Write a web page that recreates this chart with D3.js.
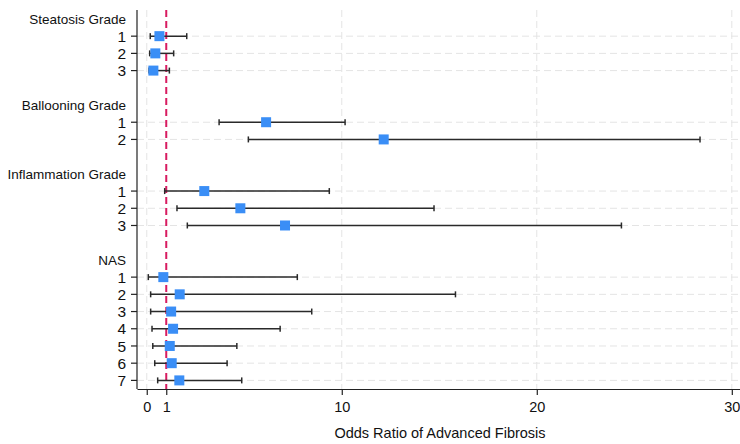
<!DOCTYPE html>
<html><head><meta charset="utf-8">
<script src="https://cdn.jsdelivr.net/npm/d3@7"></script>
<style>body{margin:0;background:#fff}text{font-family:"Liberation Sans",Arial,sans-serif;fill:#111}</style>
</head><body><svg id="c" width="740" height="444"></svg>
<script>
const groups = ["Steatosis Grade","Ballooning Grade","Inflammation Grade","NAS"];
const levels = [["1","2","3"],["1","2"],["1","2","3"],["1","2","3","4","5","6","7"]];
const oddsRatio = [[0.65,0.44,0.34],[6.12,12.15],[2.95,4.8,7.09],[0.85,1.69,1.25,1.35,1.18,1.28,1.67]];
const lower = [[0.18,0.15,0.12],[3.71,5.21],[0.92,1.55,2.08],[0.08,0.2,0.2,0.27,0.31,0.41,0.56]];
const upper = [[2.05,1.38,1.16],[10.17,28.37],[9.36,14.73,24.34],[7.72,15.83,8.46,6.84,4.62,4.12,4.87]];
const xTicks = [0,1,10,20,30];
const gridTicks = [0,10,20,30];
const refValue = 1;
const xTitle = "Odds Ratio of Advanced Fibrosis";

// build rows
const rows = []; let idx = 0;
groups.forEach((g,gi)=>{
  rows.push({type:"header",label:g,i:idx++});
  levels[gi].forEach((l,li)=>rows.push({type:"data",label:l,i:idx++,or:oddsRatio[gi][li],lo:lower[gi][li],hi:upper[gi][li]}));
  if(gi<groups.length-1) idx++;
});
const nRows = idx;

const svg = d3.select("#c");
const L=137, R=740, T=10, B=389;
const x = d3.scaleLinear().domain([-0.5,30.42]).range([L,R]);
const y = d3.scaleLinear().domain([-0.52,nRows-0.5]).range([T,B]);
const data = rows.filter(r=>r.type==="data");

// grids
svg.append("g").selectAll("line").data(gridTicks).join("line")
  .attr("x1",d=>x(d)).attr("x2",d=>x(d)).attr("y1",T).attr("y2",B)
  .attr("stroke","#e4e4e4").attr("stroke-width",1).attr("stroke-dasharray","7,4");
svg.append("g").selectAll("line").data(data).join("line")
  .attr("x1",L).attr("x2",R).attr("y1",d=>y(d.i)).attr("y2",d=>y(d.i))
  .attr("stroke","#e4e4e4").attr("stroke-width",1).attr("stroke-dasharray","7,4");

// reference line
svg.append("line").attr("x1",x(refValue)).attr("x2",x(refValue)).attr("y1",T).attr("y2",B)
  .attr("stroke","#d81b60").attr("stroke-width",2).attr("stroke-dasharray","7,4");

// error bars
const eb = svg.append("g").selectAll("g").data(data).join("g");
eb.append("line").attr("x1",d=>x(d.lo)).attr("x2",d=>x(d.hi)).attr("y1",d=>y(d.i)).attr("y2",d=>y(d.i))
  .attr("stroke","#2a2a2a").attr("stroke-width",1.5);
eb.append("line").attr("x1",d=>x(d.lo)).attr("x2",d=>x(d.lo)).attr("y1",d=>y(d.i)-3).attr("y2",d=>y(d.i)+3)
  .attr("stroke","#2a2a2a").attr("stroke-width",1.5);
eb.append("line").attr("x1",d=>x(d.hi)).attr("x2",d=>x(d.hi)).attr("y1",d=>y(d.i)-3).attr("y2",d=>y(d.i)+3)
  .attr("stroke","#2a2a2a").attr("stroke-width",1.5);
eb.append("rect").attr("x",d=>x(d.or)-5).attr("y",d=>y(d.i)-5).attr("width",10).attr("height",10)
  .attr("fill","#3a8ef6");

// y axis
svg.append("line").attr("x1",L).attr("x2",L).attr("y1",T).attr("y2",B).attr("stroke","#222").attr("stroke-width",1.2);
svg.append("g").selectAll("line").data(data).join("line")
  .attr("x1",L-6).attr("x2",L).attr("y1",d=>y(d.i)).attr("y2",d=>y(d.i)).attr("stroke","#222").attr("stroke-width",1.2);
svg.append("g").selectAll("text").data(rows).join("text")
  .attr("x",126).attr("y",d=>y(d.i)).attr("dy","0.36em").attr("text-anchor","end")
  .style("font-size",d=>d.type==="header"?"13.5px":"15.5px")
  .text(d=>d.label);

// x axis
const xa = svg.append("g").attr("transform",`translate(0,${B})`)
  .call(d3.axisBottom(x).tickValues(xTicks).tickSize(6).tickSizeOuter(0).tickPadding(7));
xa.select(".domain").attr("stroke","#222").attr("stroke-width",1.2);
xa.selectAll(".tick line").attr("stroke","#222").attr("stroke-width",1.2);
xa.selectAll(".tick text").style("font-size","14.5px").style("font-family","'Liberation Sans',Arial,sans-serif").attr("fill","#111");

svg.append("text").attr("x",440).attr("y",438).attr("text-anchor","middle")
  .style("font-size","14.5px").text(xTitle);
</script></body></html>
